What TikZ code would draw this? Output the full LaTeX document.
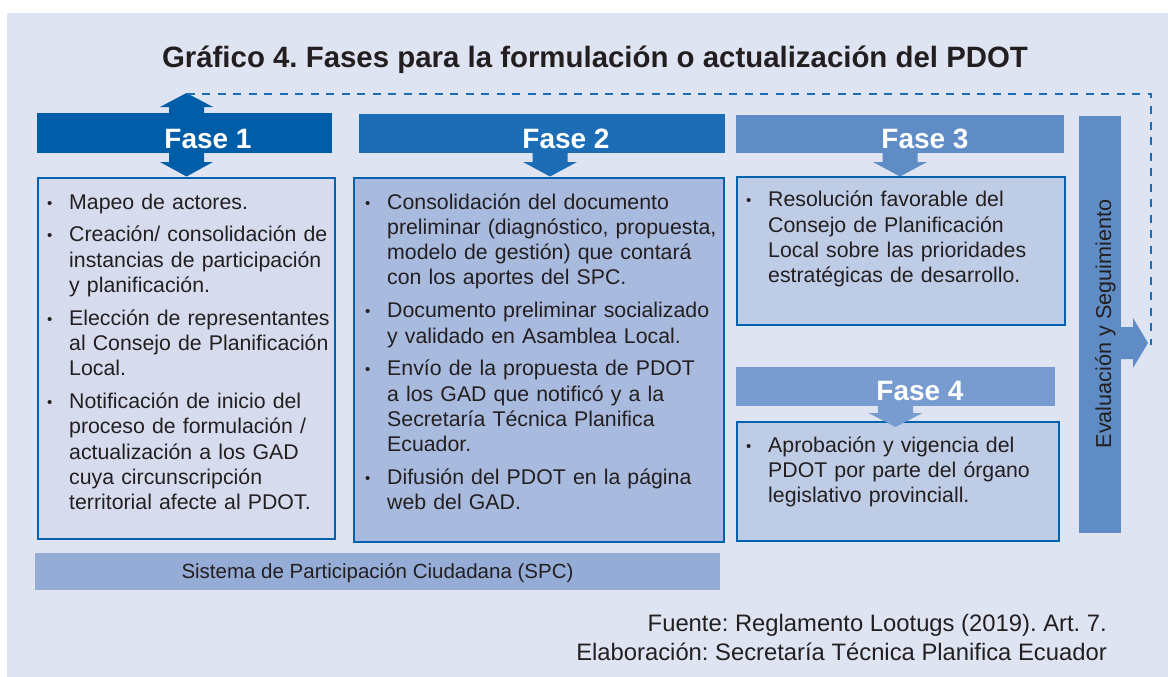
\documentclass[tikz,border=0pt]{standalone}
\usepackage{fontspec}
\setmainfont{Liberation Sans}
\frenchspacing
\usetikzlibrary{calc}
\definecolor{panel}{HTML}{DFE4F2}
\definecolor{hdrA}{HTML}{005EA8}
\definecolor{hdrB}{HTML}{1C6DB5}
\definecolor{hdrC}{HTML}{5F8CC5}
\definecolor{hdrD}{HTML}{799CD0}
\definecolor{boxline}{HTML}{0061AC}
\definecolor{fillA}{HTML}{D6DCEE}
\definecolor{fillB}{HTML}{A9BADF}
\definecolor{fillC}{HTML}{BFCCE6}
\definecolor{spcfill}{HTML}{95ACD6}
\definecolor{ink}{HTML}{231F20}
\definecolor{dashblue}{HTML}{1A6DB5}
\newcommand\bitem[1]{\par\hangindent=22pt\hangafter=1\noindent\hbox to 22pt{\raisebox{1pt}{\fontsize{15}{15}\selectfont\textbullet}\hss}\strut#1\par}
\newcommand\rectnode[6]{\node[#2, inner sep=0pt, outer sep=0pt, minimum width={#5-#3}, minimum height={#6-#4}, anchor=north west] (#1) at (#3,#4) {};}
\newcommand\downshape[5]{\fill[#5] (#1-17.5,#2) -- (#1+17.5,#2) -- (#1+17.5,#3) -- (#1+27,#3) -- (#1,#4) -- (#1-27,#3) -- (#1-17.5,#3) -- cycle;}
\begin{document}
\begin{tikzpicture}[x=1pt,y=-1pt,
  hdr/.style={fill=#1},
  phasebox/.style={fill=#1, draw=boxline, line width=2.2pt},
  phaselabel/.style={anchor=base, text=white, font=\fontsize{28}{32}\selectfont\bfseries, inner sep=0pt},
  bodytext/.style={anchor=north west, inner sep=0pt, text=ink, align=left, text width=#1,
    font=\fontsize{21.3}{25.3}\selectfont\frenchspacing\setlength\parskip{7.5pt}},
  loopline/.style={draw=dashblue, line width=2.3pt, dash pattern=on 8pt off 7.5pt}]
\useasboundingbox (0,0) rectangle (1168,677);
\fill[white] (0,0) rectangle (1168,677);
\fill[panel] (7,13) rectangle (1168,677);

\node[anchor=base, font=\fontsize{29.4}{34}\selectfont\bfseries\frenchspacing, text=ink, inner sep=0pt] (title) at (595,68) {Gráfico 4. Fases para la formulación o actualización del PDOT};

% headers
\rectnode{h1}{hdr=hdrA}{37}{113}{332}{153}
\rectnode{h2}{hdr=hdrB}{359}{114}{725}{153}
\rectnode{h3}{hdr=hdrC}{736}{115}{1064}{153}
\rectnode{h4}{hdr=hdrD}{736}{367}{1055}{406}
\rectnode{ev}{hdr=hdrC}{1079}{116}{1121}{533}

% boxes
\rectnode{b1}{phasebox=fillA}{38}{178}{335}{539}
\rectnode{b2}{phasebox=fillB}{354}{178}{724}{542}
\rectnode{b3}{phasebox=fillC}{737}{177}{1065}{325}
\rectnode{b4}{phasebox=fillC}{737}{422}{1059}{541}
\rectnode{spc}{fill=spcfill}{35}{553}{720}{590}
\node[text=ink, font=\fontsize{20.5}{24}\selectfont, inner sep=0pt] (spclabel) at (377.5,573) {Sistema de Participación Ciudadana (SPC)};

% arrows
\fill[hdrA] (186.5,93) -- (213,107) -- (204,107) -- (204,162) -- (213,162) -- (186.5,176.5) -- (160,162) -- (169,162) -- (169,107) -- (160,107) -- cycle;
\downshape{550}{153}{162}{176.5}{hdrB}
\downshape{900}{153}{162}{176.5}{hdrC}
\downshape{895.5}{406}{413}{427}{hdrD}
\fill[hdrC] (1121,327) -- (1133,327) -- (1133,318) -- (1148,343) -- (1133,368) -- (1133,359) -- (1121,359) -- cycle;

% labels
\node[phaselabel] (l1) at (208,148) {Fase 1};
\node[phaselabel] (l2) at (566,148) {Fase 2};
\node[phaselabel] (l3) at (925,148) {Fase 3};
\node[phaselabel] (l4) at (920,400) {Fase 4};
\node[rotate=90, anchor=base, text=ink, font=\fontsize{21.6}{25}\selectfont, inner sep=0pt] (evlabel) at (1111,324) {Evaluación y Seguimiento};

% texts
\node[bodytext=300pt] (t1) at (47,{207-31}) {%
\bitem{Mapeo de actores.}
\bitem{Creación/ consolidación de\newline instancias de participación\newline y planificación.}
\bitem{Elección de representantes\newline al Consejo de Planificación\newline Local.}
\bitem{Notificación de inicio del\newline proceso de formulación /\newline actualización a los GAD\newline cuya circunscripción\newline territorial afecte al PDOT.}};
\node[bodytext=370pt] (t2) at (365,{207-31}) {%
\bitem{Consolidación del documento\newline preliminar (diagnóstico, propuesta,\newline modelo de gestión) que contará\newline con los aportes del SPC.}
\bitem{Documento preliminar socializado\newline y validado en Asamblea Local.}
\bitem{Envío de la propuesta de PDOT\newline a los GAD que notificó y a la\newline Secretaría Técnica Planifica\newline Ecuador.}
\bitem{Difusión del PDOT en la página\newline web del GAD.}};
\node[bodytext=320pt] (t3) at (746,{205-31}) {%
\bitem{Resolución favorable del\newline Consejo de Planificación\newline Local sobre las prioridades\newline estratégicas de desarrollo.}};
\node[bodytext=320pt] (t4) at (746,{450-31}) {%
\bitem{Aprobación y vigencia del\newline PDOT por parte del órgano\newline legislativo provinciall.}};

% feedback loop
\coordinate (loopstart) at (186.5,94);
\coordinate (looptip) at (1151,345);
\draw[loopline] (loopstart) -| (looptip);

% footer
\node[anchor=base east, text=ink, font=\fontsize{23.8}{28}\selectfont\frenchspacing, inner sep=0pt] (src) at (1107,631) {Fuente: Reglamento Lootugs (2019). Art. 7.};
\node[anchor=base east, text=ink, font=\fontsize{23.8}{28}\selectfont\frenchspacing, inner sep=0pt] (elab) at (1107,660) {Elaboración: Secretaría Técnica Planifica Ecuador};
\end{tikzpicture}
\end{document}
